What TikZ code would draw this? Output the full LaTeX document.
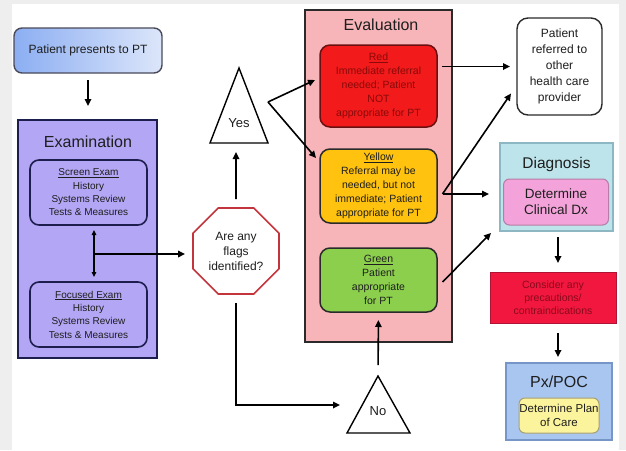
\documentclass[tikz,border=0pt]{standalone}
\usepackage{fontspec}
\setmainfont{Liberation Sans}
\usetikzlibrary{shapes.geometric,arrows.meta,calc}

\definecolor{framegray}{HTML}{EEEEEE}
\definecolor{textdark}{HTML}{1E1E1E}
\definecolor{startL}{HTML}{8CAEF2}
\definecolor{startR}{HTML}{DCE6FA}
\definecolor{startline}{HTML}{4A4A5A}
\definecolor{examfill}{HTML}{B3A6F5}
\definecolor{examline}{HTML}{1E1E4E}
\definecolor{octred}{HTML}{C4343C}
\definecolor{evalpink}{HTML}{F8B5B9}
\definecolor{panelline}{HTML}{2A2A2A}
\definecolor{redfill}{HTML}{F21A1A}
\definecolor{redline}{HTML}{6A1010}
\definecolor{redtext}{HTML}{8A0A0A}
\definecolor{yellowfill}{HTML}{FFC20E}
\definecolor{greenfill}{HTML}{8CCF4D}
\definecolor{diagfill}{HTML}{BDE4EA}
\definecolor{diagline}{HTML}{8EB7C4}
\definecolor{dxpink}{HTML}{F3A3DA}
\definecolor{dxline}{HTML}{B77CA8}
\definecolor{precfill}{HTML}{F2173E}
\definecolor{precline}{HTML}{B01435}
\definecolor{prectext}{HTML}{8A0A1E}
\definecolor{pxfill}{HTML}{A8C6F0}
\definecolor{pxline}{HTML}{7796C8}
\definecolor{planyellow}{HTML}{FCF49C}
\definecolor{planline}{HTML}{A8A070}

\newcommand\fsz[2]{\fontsize{#1}{#2}\selectfont}

\begin{document}
\begin{tikzpicture}[x=1pt,y=-1pt,
  every node/.style={inner sep=0pt, outer sep=0pt, align=center, text=textdark},
  panel/.style={rectangle, line width=1.5pt},
  startbox/.style={rectangle, rounded corners=8pt, draw=startline, line width=1.4pt,
    left color=startL, right color=startR, minimum width=148pt, minimum height=45pt,
    font=\fsz{12}{14}},
  exambox/.style={rectangle, rounded corners=9pt, draw=examline, line width=1.6pt,
    minimum width=117pt, minimum height=65pt, font=\fsz{10}{13.3}},
  evalbox/.style={rectangle, rounded corners=10pt, draw=panelline, line width=1.5pt,
    minimum width=117pt, font=\fsz{10.5}{14}},
  refbox/.style={rectangle, rounded corners=11pt, draw=panelline, line width=1.4pt,
    fill=white, minimum width=85pt, minimum height=97pt, font=\fsz{12}{16}},
  innerbox/.style={rectangle, rounded corners=6pt, line width=1pt},
  tri/.style={draw=black, line width=1.4pt, line join=miter, fill=white},
  arr/.style={line width=1.6pt, -{Triangle[length=7pt,width=6.5pt]}},
  dbl/.style={line width=1.3pt, {Triangle[length=5pt,width=4.5pt]}-{Triangle[length=5pt,width=4.5pt]}}
]
\useasboundingbox (0,0) rectangle (626,450);
\fill[framegray] (0,0) rectangle (626,450);
\fill[white] (12,4) rectangle (619,450);

% ---- start and examination ----
\node[startbox] (start) at (88,50.5) {Patient presents to PT};

\node[panel, fill=examfill, draw=examline, minimum width=139pt, minimum height=238pt] (exam) at (87.5,239) {};
\node[font=\fsz{16}{19}] (examtitle) at (88,142) {Examination};
\node[exambox] (screen) at (88.5,192.5)
  {\underline{Screen Exam}\\History\\Systems Review\\Tests \& Measures};
\node[exambox] (focused) at (88.5,314.5)
  {\underline{Focused Exam}\\History\\Systems Review\\Tests \& Measures};

\draw[arr, shorten <=7pt, shorten >=14pt] (start.south) -- (exam.north -| start.south);
\draw[dbl] ([xshift=5.5pt,yshift=-5pt]screen.south) -- ([xshift=5.5pt,yshift=5pt]focused.north);

% ---- decision ----
\node[regular polygon, regular polygon sides=8, minimum size=93pt, draw=octred,
  line width=1.6pt, fill=white, font=\fsz{12}{15}] (oct) at (236,251) {Are any\\flags\\identified?};

\coordinate (junc) at (94,254);
\draw[arr, shorten >=8pt] (junc) -- (junc -| oct.west);

% Yes triangle
\draw[tri] (239,68) -- (268,143) -- (210,143) -- cycle;
\node[font=\fsz{13}{15}] (yes) at (239,123) {Yes};
\coordinate (yesbase) at (236,143);
\draw[arr, shorten <=9pt, shorten >=9pt] (oct.north) -- (yesbase);

% No triangle
\draw[tri] (378,376) -- (410,433) -- (347,433) -- cycle;
\node[font=\fsz{13}{15}] (no) at (378,411) {No};
\coordinate (noin) at (340,405);
\coordinate (noapex) at (378,376);
\draw[arr, shorten <=9pt] (oct.south) |- (noin);

% ---- evaluation ----
\node[panel, fill=evalpink, draw=panelline, minimum width=147pt, minimum height=332pt] (eval) at (378.5,176) {};
\node[font=\fsz{16}{19}] (evaltitle) at (381,25) {Evaluation};

\node[evalbox, fill=redfill, draw=redline, text=redtext, minimum height=82pt] (red) at (378.5,86)
  {\underline{Red}\\Immediate referral\\needed; Patient\\NOT\\appropriate for PT};
\node[evalbox, fill=yellowfill, minimum height=74pt] (yellow) at (378.5,186)
  {\underline{Yellow}\\Referral may be\\needed, but not\\immediate; Patient\\appropriate for PT};
\node[evalbox, fill=greenfill, minimum height=64pt] (green) at (378.5,280)
  {\underline{Green}\\Patient\\appropriate\\for PT};

\coordinate (yesfork) at (268,102);
\draw[arr] (yesfork) -- ($(red.west)+(-5,-6)$);
\draw[arr] (yesfork) -- ($(yellow.west)+(-4,-28)$);
\draw[arr, shorten <=11pt, shorten >=8pt] (noapex) -- (green.south);

% ---- outcomes ----
\node[refbox] (ref) at (559.5,66.5) {Patient\\referred to\\other\\health care\\provider};

\node[panel, fill=diagfill, draw=diagline, minimum width=113pt, minimum height=88pt] (diag) at (556.5,187) {};
\node[font=\fsz{15.5}{18}] (diagtitle) at (556.5,164) {Diagnosis};
\node[innerbox, fill=dxpink, draw=dxline, minimum width=105pt, minimum height=46pt,
  font=\fsz{13.5}{16}] (dx) at (556,202) {Determine\\Clinical Dx};

\node[rectangle, fill=precfill, draw=precline, line width=1pt, minimum width=126pt,
  minimum height=51pt, text=prectext, font=\fsz{10.5}{13}] (prec) at (553,297.5)
  {Consider any\\precautions/\\contraindications};

\node[panel, fill=pxfill, draw=pxline, minimum width=106pt, minimum height=77pt] (px) at (559,401.5) {};
\node[font=\fsz{16}{19}] (pxtitle) at (559,382) {Px/POC};
\node[innerbox, fill=planyellow, draw=planline, minimum width=80pt, minimum height=35pt,
  font=\fsz{11.5}{14}] (plan) at (559,415.5) {Determine Plan\\of Care};

% ---- connectors on the right ----
\coordinate (redout) at ($(red.east)+(5,-19.5)$);
\draw[arr, shorten >=7pt] (redout) -- (redout -| ref.west);

\coordinate (ylwfork) at ($(yellow.east)+(5.5,8)$);
\draw[arr] (ylwfork) -- ($(ref.west)+(-6,27)$);
\draw[arr, shorten >=11pt] (ylwfork) -- (ylwfork -| diag.west);

\coordinate (grnfork) at ($(green.east)+(5.5,2)$);
\draw[arr] (grnfork) -- ($(diag.south west)+(-9,2)$);

\coordinate (col) at (558,0);
\draw[arr, shorten <=6pt, shorten >=9pt] (col |- diag.south) -- (col |- prec.north);
\draw[arr, shorten <=10pt, shorten >=6pt] (col |- prec.south) -- (col |- px.north);
\end{tikzpicture}
\end{document}
